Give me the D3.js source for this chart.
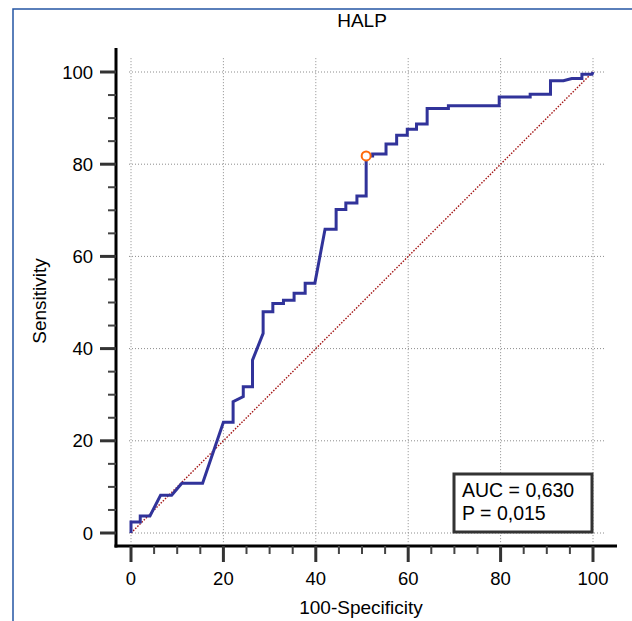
<!DOCTYPE html>
<html>
<head>
<meta charset="utf-8">
<script src="https://cdn.jsdelivr.net/npm/d3@7"></script>
<style>
  body { margin: 0; background: #fff; }
  text { font-family: "Liberation Sans", Arial, sans-serif; fill: #000; }
</style>
</head>
<body>
<div id="chart"></div>
<script>
//ROC curve points (100-Specificity, Sensitivity)
var fpr = [0, 0, 2, 2, 4.1, 6.4, 8.8, 11, 15.5, 20, 22.1, 22.1, 24.3, 24.3, 26.3, 26.3, 28.6, 28.6,
           30.7, 30.7, 33, 33, 35.3, 35.3, 37.7, 37.7, 39.8, 42, 44.4, 44.4, 46.5, 46.5, 48.9, 48.9,
           50.9, 50.9, 52.3, 52.3, 55.2, 55.2, 57.5, 57.5, 59.8, 59.8, 61.8, 61.8, 64.1, 64.1, 68.7,
           68.7, 79.7, 79.7, 86.4, 86.4, 90.8, 90.8, 93.6, 95.4, 97.6, 97.6, 99.8, 100];
var tpr = [0, 2.4, 2.4, 3.7, 3.7, 8.2, 8.2, 10.8, 10.8, 24, 24, 28.5, 29.6, 31.7, 31.7, 37.5, 43.3, 48,
           48, 49.8, 49.8, 50.5, 50.5, 52, 52, 54.2, 54.2, 65.9, 65.9, 70.2, 70.2, 71.6, 71.6, 73.1,
           73.1, 81.8, 81.8, 82.2, 82.2, 84.4, 84.4, 86.3, 86.3, 87.6, 87.6, 88.7, 88.7, 92.1, 92.1,
           92.7, 92.7, 94.6, 94.6, 95.2, 95.2, 98.1, 98.1, 98.6, 98.6, 99.5, 99.5, 100];
//Optimal criterion point
var cutPoint = [50.9, 81.8];
var majorTicks = [0, 20, 40, 60, 80, 100];
var minorTicks = [5, 10, 15, 25, 30, 35, 45, 50, 55, 65, 70, 75, 85, 90, 95];
var titleText = "HALP";
var xTitle = "100-Specificity";
var yTitle = "Sensitivity";
var statLines = ["AUC = 0,630", "P = 0,015"];

var width = 632, height = 621;

var svg = d3.select("#chart")
   .append("svg")
   .attr("width", width)
   .attr("height", height);

var x = d3.scaleLinear().domain([0, 100]).range([131, 593]);
var y = d3.scaleLinear().domain([0, 100]).range([533, 72]);

//Outer frame (only left and top edges visible)
svg.append("path")
   .attr("d", "M13,621V9H632")
   .style("fill", "none")
   .style("stroke", "#2455a4")
   .style("stroke-width", 1.5);

//Dotted grid
svg.selectAll(".hgrid")
   .data(majorTicks)
   .enter().append("line")
   .attr("x1", x(0) - 2)
   .attr("x2", x(102.7))
   .attr("y1", function(d) { return y(d); })
   .attr("y2", function(d) { return y(d); })
   .style("stroke", "#8c8c8c")
   .style("stroke-width", 1)
   .style("stroke-dasharray", "1,2");
svg.selectAll(".vgrid")
   .data(majorTicks)
   .enter().append("line")
   .attr("y1", y(103))
   .attr("y2", 544)
   .attr("x1", function(d) { return x(d); })
   .attr("x2", function(d) { return x(d); })
   .style("stroke", "#8c8c8c")
   .style("stroke-width", 1)
   .style("stroke-dasharray", "1,2");

//Diagonal reference line
svg.append("line")
   .attr("x1", x(0)).attr("y1", y(0))
   .attr("x2", x(100)).attr("y2", y(100))
   .style("stroke", "#a31515")
   .style("stroke-width", 1.4)
   .style("stroke-dasharray", "1.5,1.5");

//ROC curve
var line = d3.line()
   .x(function(d) { return x(d[0]); })
   .y(function(d) { return y(d[1]); });
svg.append("path")
   .datum(d3.zip(fpr, tpr))
   .attr("d", line)
   .style("fill", "none")
   .style("stroke", "#31339a")
   .style("stroke-width", 3)
   .style("stroke-linejoin", "miter");

//Criterion marker
svg.append("circle")
   .attr("cx", x(cutPoint[0]))
   .attr("cy", y(cutPoint[1]))
   .attr("r", 4.5)
   .style("fill", "#fff")
   .style("stroke", "#ff6a0a")
   .style("stroke-width", 2);

//Axes drawn by hand so ticks can hang outside
var axisX = 116, axisY = 546;
svg.append("line")
   .attr("x1", axisX).attr("x2", axisX)
   .attr("y1", 48).attr("y2", axisY + 1.5)
   .style("stroke", "#000").style("stroke-width", 3);
svg.append("line")
   .attr("x1", axisX - 1.5).attr("x2", 617)
   .attr("y1", axisY).attr("y2", axisY)
   .style("stroke", "#000").style("stroke-width", 3);

//Y ticks
svg.selectAll(".ymajor")
   .data(majorTicks)
   .enter().append("line")
   .attr("x1", axisX - 16).attr("x2", axisX)
   .attr("y1", function(d) { return y(d); })
   .attr("y2", function(d) { return y(d); })
   .style("stroke", "#333").style("stroke-width", 3);
svg.selectAll(".yminor")
   .data(minorTicks)
   .enter().append("line")
   .attr("x1", axisX - 8).attr("x2", axisX)
   .attr("y1", function(d) { return y(d); })
   .attr("y2", function(d) { return y(d); })
   .style("stroke", "#444").style("stroke-width", 2);
svg.selectAll(".ylabel")
   .data(majorTicks)
   .enter().append("text")
   .text(function(d) { return d; })
   .attr("x", 93)
   .attr("y", function(d) { return y(d) + 6.5; })
   .attr("text-anchor", "end")
   .style("font-size", "18.5px");

//X ticks
svg.selectAll(".xmajor")
   .data(majorTicks)
   .enter().append("line")
   .attr("y1", axisY).attr("y2", axisY + 16)
   .attr("x1", function(d) { return x(d); })
   .attr("x2", function(d) { return x(d); })
   .style("stroke", "#333").style("stroke-width", 3);
svg.selectAll(".xminor")
   .data(minorTicks)
   .enter().append("line")
   .attr("y1", axisY).attr("y2", axisY + 8)
   .attr("x1", function(d) { return x(d); })
   .attr("x2", function(d) { return x(d); })
   .style("stroke", "#444").style("stroke-width", 2);
svg.selectAll(".xlabel")
   .data(majorTicks)
   .enter().append("text")
   .text(function(d) { return d; })
   .attr("x", function(d) { return x(d); })
   .attr("y", 585)
   .attr("text-anchor", "middle")
   .style("font-size", "18.5px");

//Titles
svg.append("text")
   .text(titleText)
   .attr("x", 362).attr("y", 27)
   .attr("text-anchor", "middle")
   .style("font-size", "19px");
svg.append("text")
   .text(xTitle)
   .attr("x", 361).attr("y", 614)
   .attr("text-anchor", "middle")
   .style("font-size", "19px");
svg.append("text")
   .text(yTitle)
   .attr("transform", "translate(46,301) rotate(-90)")
   .attr("text-anchor", "middle")
   .style("font-size", "19px");

//AUC box
var gStat = svg.append("g");
gStat.append("rect")
   .attr("x", 454).attr("y", 474)
   .attr("width", 138).attr("height", 58)
   .style("fill", "#fff")
   .style("stroke", "#333")
   .style("stroke-width", 3);
statLines.forEach(function(s, i) {
  gStat.append("text")
     .text(s)
     .attr("x", 462)
     .attr("y", 497 + i * 23)
     .style("font-size", "19.5px");
});
</script>
</body>
</html>
